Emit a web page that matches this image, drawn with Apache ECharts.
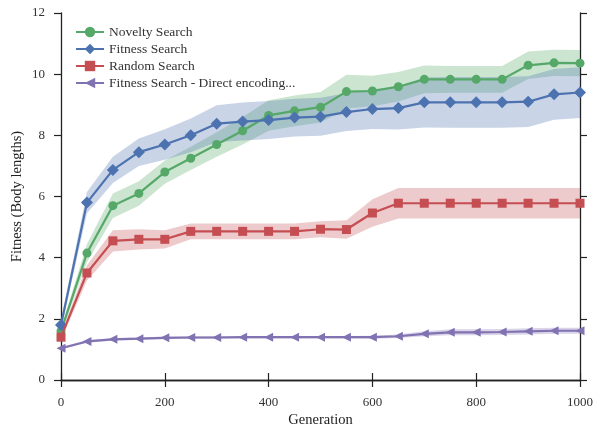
<!DOCTYPE html>
<html><head><meta charset="utf-8">
<script src="https://cdn.jsdelivr.net/npm/echarts@6/dist/echarts.min.js"></script>
<style>html,body{margin:0;padding:0;background:#fff}#c{width:593px;height:428px}</style>
</head><body><div id="c"></div>
<script>
const generations = [0,50,100,150,200,250,300,350,400,450,500,550,600,650,700,750,800,850,900,950,1000];
const seriesNames = ['Novelty Search','Fitness Search','Random Search','Fitness Search - Direct encoding...'];
const noveltyMean = [1.6,4.15,5.7,6.1,6.8,7.25,7.7,8.15,8.65,8.8,8.92,9.43,9.45,9.59,9.83,9.83,9.83,9.83,10.29,10.37,10.36];
const noveltyStd  = [0.1,0.3,0.4,0.4,0.38,0.38,0.4,0.45,0.5,0.5,0.5,0.55,0.5,0.48,0.45,0.44,0.44,0.44,0.45,0.43,0.43];
const fitnessMean = [1.8,5.8,6.87,7.45,7.7,8.0,8.38,8.45,8.5,8.58,8.61,8.76,8.86,8.89,9.08,9.08,9.08,9.08,9.1,9.34,9.4];
const fitnessStd  = [0.15,0.35,0.43,0.45,0.5,0.55,0.6,0.62,0.62,0.62,0.62,0.62,0.65,0.7,0.82,0.83,0.83,0.83,0.83,0.83,0.83];
const randomMean  = [1.4,3.5,4.55,4.6,4.6,4.86,4.86,4.86,4.86,4.86,4.93,4.92,5.46,5.78,5.78,5.78,5.78,5.78,5.78,5.78,5.78];
const randomStd   = [0.1,0.25,0.35,0.33,0.3,0.26,0.26,0.26,0.26,0.26,0.26,0.3,0.45,0.5,0.5,0.5,0.5,0.5,0.5,0.5,0.5];
const directMean  = [1.04,1.26,1.33,1.35,1.38,1.39,1.39,1.40,1.40,1.40,1.40,1.40,1.40,1.43,1.51,1.56,1.56,1.57,1.59,1.61,1.61];
const directStd   = [0.04,0.04,0.04,0.04,0.04,0.04,0.04,0.04,0.04,0.04,0.04,0.04,0.05,0.06,0.08,0.1,0.1,0.1,0.1,0.1,0.1];
const xTicks = [0,200,400,600,800,1000];
const yTicks = [0,2,4,6,8,10,12];

const colors = ['#55A868','#4C72B0','#C44E52','#8172B2'];
const means = [noveltyMean, fitnessMean, randomMean, directMean];
const stds = [noveltyStd, fitnessStd, randomStd, directStd];
const symbols = ['circle','diamond','rect','triangle'];
const symSizes = [9,12,9,9];
const symRot = [0,0,0,90];
const font = 'Liberation Serif, DejaVu Serif, serif';
const cats = generations.map(String);

const series = [];
means.forEach((m, i) => {
  const lower = m.map((v, k) => v - stds[i][k]);
  const width = m.map((v, k) => 2 * stds[i][k]);
  series.push({type:'line', name:'band_lo_'+i, stack:'band'+i, data:lower, symbol:'none',
    lineStyle:{opacity:0}, silent:true, z:1});
  series.push({type:'line', name:'band_hi_'+i, stack:'band'+i, data:width, symbol:'none',
    lineStyle:{opacity:0}, areaStyle:{color:colors[i], opacity:0.3}, silent:true, z:1});
});
means.forEach((m, i) => {
  series.push({type:'line', name:seriesNames[i], data:m,
    symbol:symbols[i], symbolSize:symSizes[i], symbolRotate:symRot[i],
    itemStyle:{color:colors[i]}, lineStyle:{color:colors[i], width:2.2}, z:3+i});
});

const axisLine = {show:true, lineStyle:{color:'#222', width:1.3}};
const axisTick = {show:true, inside:false, length:7, lineStyle:{color:'#222', width:1.2}};
const xTick = Object.assign({}, axisTick, {interval:3, alignWithLabel:true});
const chart = echarts.init(document.getElementById('c'));
chart.setOption({
  animation:false,
  backgroundColor:'#fff',
  grid:{left:61, right:13, top:13, bottom:48, containLabel:false, outerBoundsMode:'none'},
  legend:{orient:'vertical', left:70, top:20, itemWidth:28, itemHeight:13, itemGap:3,
    data:seriesNames, textStyle:{fontFamily:font, fontSize:13.5, color:'#333'}},
  xAxis:[{type:'category', data:cats, boundaryGap:false, position:'bottom',
    name:'Generation', nameLocation:'middle', nameGap:33, nameMoveOverlap:false,
    nameTextStyle:{fontFamily:font, fontSize:14.5, color:'#222'},
    axisLine, axisTick:xTick, splitLine:{show:false},
    axisLabel:{fontFamily:font, fontSize:13, color:'#333', margin:16, interval:3,
      formatter:v=>xTicks.includes(Number(v))?v:''}},
    {type:'category', data:cats, boundaryGap:false, position:'top',
    axisLine, axisTick:xTick, splitLine:{show:false}, axisLabel:{show:false}}],
  yAxis:[{type:'value', min:0, max:12, interval:2, position:'left',
    name:'Fitness (Body lengths)', nameLocation:'middle', nameGap:36, nameMoveOverlap:false,
    nameTextStyle:{fontFamily:font, fontSize:14.5, color:'#222'},
    axisLine, axisTick, splitLine:{show:false},
    axisLabel:{fontFamily:font, fontSize:13, color:'#333', margin:16,
      formatter:v=>yTicks.includes(v)?String(v):''}},
    {type:'value', min:0, max:12, interval:2, position:'right',
    axisLine, axisTick, splitLine:{show:false}, axisLabel:{show:false}}],
  series
});
</script></body></html>
